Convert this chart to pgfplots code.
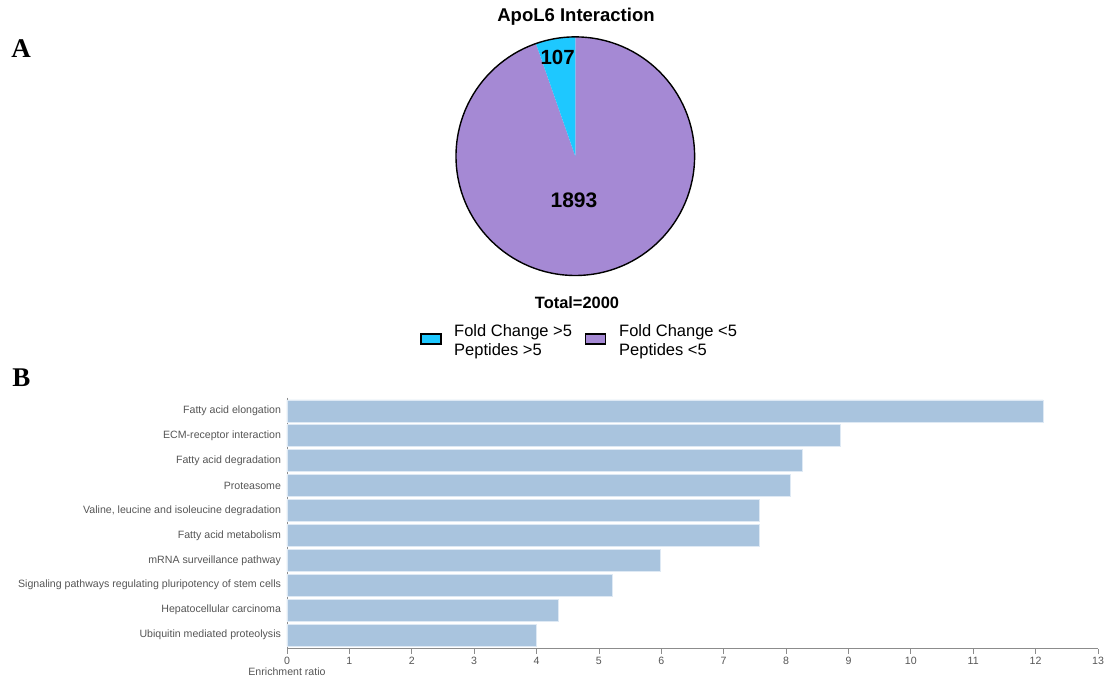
\documentclass[border=0pt]{standalone}
\usepackage{pgfplots}
\usepackage{pgfplotstable}
\pgfplotsset{compat=1.18}
\usepackage{fontspec}
\setmainfont{Liberation Sans}
\newfontfamily\panelfont{Liberation Serif}

\definecolor{slicecyan}{RGB}{30,200,255}
\definecolor{slicepurple}{RGB}{165,137,212}
\definecolor{barblue}{RGB}{169,196,222}
\definecolor{baredge}{RGB}{222,233,244}
\definecolor{axisgray}{RGB}{140,140,140}
\definecolor{labelgray}{RGB}{85,85,85}

% peptide counts
\def\countHigh{107}
\def\countLow{1893}
\def\countTotal{2000}

% KEGG enrichment ratios, top to bottom
\pgfplotstableread{
idx ratio
0 12.12
1 8.87
2 8.26
3 8.07
4 7.57
5 7.57
6 5.99
7 5.22
8 4.35
9 4.00
}\pathways

\begin{document}
\begin{tikzpicture}
\path[use as bounding box] (0,0) rectangle (1106pt,679pt);

% panel letters
\node[font=\panelfont\bfseries\fontsize{27}{27}\selectfont] at (21pt,630pt) {A};
\node[font=\panelfont\bfseries\fontsize{27}{27}\selectfont] at (21.5pt,301pt) {B};

% ---------------- panel A: pie ----------------
\pgfmathsetmacro{\cutangle}{90+\countHigh/\countTotal*360}
\begin{axis}[
  hide axis, scale only axis,
  width=238.6pt, height=238.6pt,
  xmin=-1, xmax=1, ymin=-1, ymax=1,
  at={(456pt,403.5pt)}, anchor=south west,
  clip=false,
]
\addplot[fill=slicepurple, draw=none, domain=\cutangle:450, samples=180]
  ({cos(x)},{sin(x)}) -- (0,0) -- cycle;
\addplot[fill=slicecyan, draw=none, domain=90:\cutangle, samples=20]
  ({cos(x)},{sin(x)}) -- (0,0) -- cycle;
\draw[black, line width=1.4pt] (0,0) circle[radius=119.3pt];
\node[font=\bfseries\fontsize{20.5}{24}\selectfont] at (-0.148,0.829) {\countHigh};
\node[font=\bfseries\fontsize{21}{24}\selectfont] at (-0.011,-0.367) {\countLow};
\end{axis}

\node[font=\bfseries\fontsize{18.5}{22}\selectfont] at (576pt,662pt) {ApoL6 Interaction};
\node[font=\bfseries\fontsize{16.4}{19}\selectfont] at (577pt,376.3pt) {Total=\countTotal};

% legend
\draw[fill=slicecyan, line width=1.5pt] (421pt,335pt) rectangle (441pt,345pt);
\node[anchor=west, align=left, inner sep=0pt, font=\fontsize{16.5}{19.5}\selectfont]
  at (454pt,337.5pt) {Fold Change >5\\Peptides >5};
\draw[fill=slicepurple, line width=1.5pt] (585.5pt,335pt) rectangle (605.5pt,345pt);
\node[anchor=west, align=left, inner sep=0pt, font=\fontsize{16.5}{19.5}\selectfont]
  at (619pt,337.5pt) {Fold Change <5\\Peptides <5};

% ---------------- panel B: enrichment bars ----------------
\begin{axis}[
  at={(287pt,30.3pt)}, anchor=south west,
  scale only axis, width=811pt, height=251pt,
  xmin=0, xmax=13, ymin=-0.534, ymax=9.55,
  y dir=reverse,
  axis x line*=bottom, axis y line*=left,
  axis line style={axisgray, line width=0.8pt},
  xtick={0,1,...,13},
  ytick={0,1,...,9},
  yticklabels={
    Fatty acid elongation,
    ECM-receptor interaction,
    Fatty acid degradation,
    Proteasome,
    {Valine, leucine and isoleucine degradation},
    Fatty acid metabolism,
    mRNA surveillance pathway,
    Signaling pathways regulating pluripotency of stem cells,
    Hepatocellular carcinoma,
    Ubiquitin mediated proteolysis},
  /pgf/number format/assume math mode=true,
  tick label style={font=\fontsize{10.6}{12}\selectfont, text=labelgray},
  yticklabel style={xshift=2.5pt},
  xtick style={axisgray, line width=0.8pt},
  ytick style={draw=none},
  major tick length=5pt, tick align=outside,
  xlabel={Enrichment ratio},
  xlabel style={at={(axis description cs:0,0)}, anchor=center, yshift=-22.6pt,
    font=\fontsize{10.6}{12}\selectfont, text=labelgray},
]
\addplot[xbar, bar width=22pt, fill=barblue, draw=baredge, line width=0.8pt]
  table[x=ratio, y=idx] {\pathways};
\end{axis}
\end{tikzpicture}
\end{document}
